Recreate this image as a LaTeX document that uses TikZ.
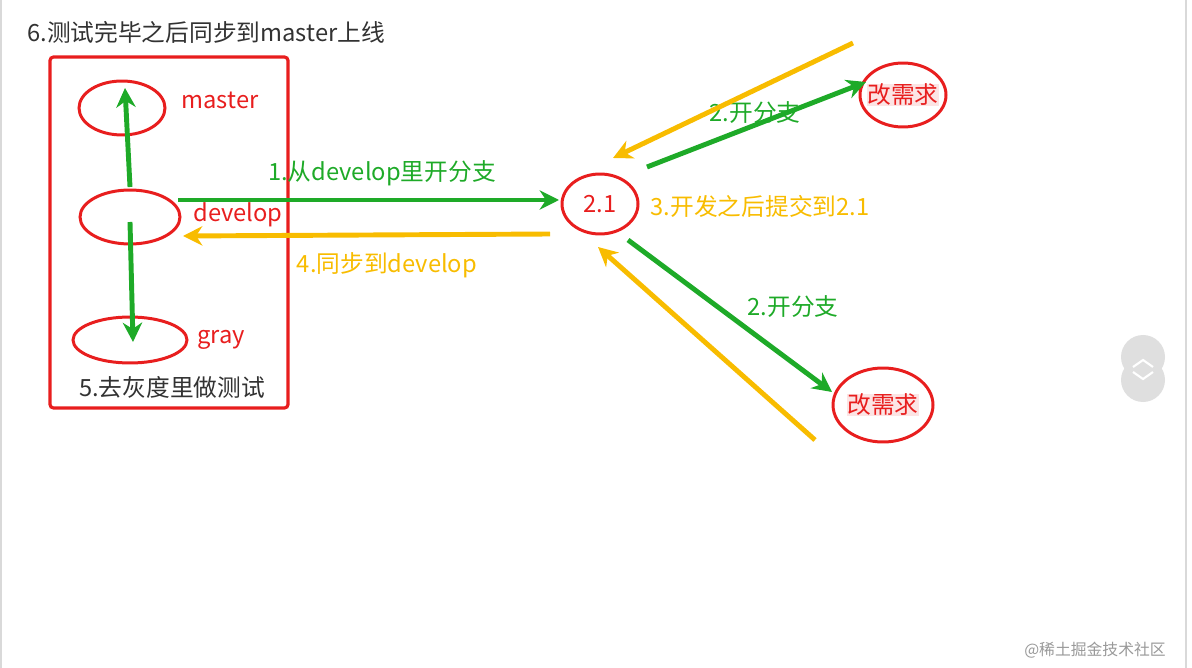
\documentclass[tikz,border=0pt]{standalone}
\usepackage{fontspec}
\setmainfont{Noto Sans CJK SC}
\usetikzlibrary{arrows.meta,shapes.geometric}
\definecolor{gr}{RGB}{30,170,40}
\definecolor{og}{RGB}{248,188,0}
\definecolor{rd}{RGB}{232,30,30}
\definecolor{tx}{RGB}{50,50,50}
\tikzset{
 lbl/.style={font=\fontsize{13.5}{15}\selectfont, inner sep=0pt},
 ell/.style={draw=rd, line width=1.7pt, ellipse, inner sep=0pt},
 garr/.style={draw=gr, line width=2.8pt, -{Stealth[length=11pt,width=11pt]}},
 oarr/.style={draw=og, line width=2.8pt, -{Stealth[length=11pt,width=11pt]}},
}
\begin{document}
\begin{tikzpicture}[x=0.02cm,y=-0.02cm]
\useasboundingbox (0,0) rectangle (1192,668);
\draw[gray!30, line width=0.6pt] (1,0) -- (1,668) (1186,0) -- (1186,668);
\node[lbl, anchor=west, text=tx] (title) at (27,32) {6.测试完毕之后同步到master上线};
\draw[rd, line width=1.8pt, rounded corners=2pt] (50,57) rectangle (288,408);
\node[ell, minimum width=1.72cm, minimum height=1.08cm] (em) at (122,108) {};
\node[ell, minimum width=2.0cm, minimum height=1.08cm] (ed) at (130,217) {};
\node[ell, minimum width=2.28cm, minimum height=0.92cm] (eg) at (130,340) {};
\node[lbl, text=rd] (lm) at (220,100) {master};
\node[lbl, text=rd] (ld) at (238,215) {develop};
\node[lbl, text=rd] (lg) at (221,340) {gray};
\node[lbl, text=tx] (l5) at (172,387) {5.去灰度里做测试};
\coordinate (d1) at (130,187); \coordinate (m1) at (125,88);
\coordinate (d2) at (130,222); \coordinate (g1) at (133,342);
\draw[garr] (d1) -- (m1);
\draw[garr] (d2) -- (g1);
\node[ell, minimum width=1.52cm, minimum height=1.2cm, text=rd, font=\fontsize{13.5}{15}\selectfont] (n21) at (600,204) {2.1};
\coordinate (a1) at (178,200); \coordinate (a2) at (559,200);
\draw[garr] (a1) -- (a2);
\node[lbl, text=gr] (l1) at (382,173) {1.从develop里开分支};
\coordinate (b1) at (550,234); \coordinate (b2) at (183,236);
\draw[oarr] (b1) -- (b2);
\node[lbl, text=og] (l4) at (387,265) {4.同步到develop};
\node[lbl, text=og] (l3) at (760,206) {3.开发之后提交到2.1};
\node[ell, minimum width=1.72cm, minimum height=1.28cm] (t) at (903,95) {};
\node[lbl, text=rd, fill=rd!12] (tt) at (t) {改需求};
\node[ell, minimum width=2.0cm, minimum height=1.48cm] (b) at (883,405) {};
\node[lbl, text=rd, fill=rd!12] (bt) at (b) {改需求};
\coordinate (c1) at (647,167); \coordinate (c2) at (866,82);
\draw[garr] (c1) -- (c2);
\node[lbl, text=gr] (l2a) at (755,113) {2.开分支};
\coordinate (e1) at (853,43); \coordinate (e2) at (613,158);
\draw[oarr] (e1) -- (e2);
\coordinate (f1) at (628,240); \coordinate (f2) at (832,392);
\draw[garr] (f1) -- (f2);
\node[lbl, text=gr] (l2b) at (793,307) {2.开分支};
\coordinate (h1) at (815,440); \coordinate (h2) at (598,247);
\draw[oarr] (h1) -- (h2);
\fill[gray!25] (1143,357) circle (22);
\fill[gray!25] (1143,380) circle (22);
\draw[white, line width=1.2pt] (1133,367) -- (1143,360) -- (1153,367) (1133,372) -- (1143,379) -- (1153,372);
\node[font=\fontsize{9}{10}\selectfont, text=gray!80, inner sep=0pt] (wm) at (1095,650) {@稀土掘金技术社区};
\end{tikzpicture}
\end{document}
